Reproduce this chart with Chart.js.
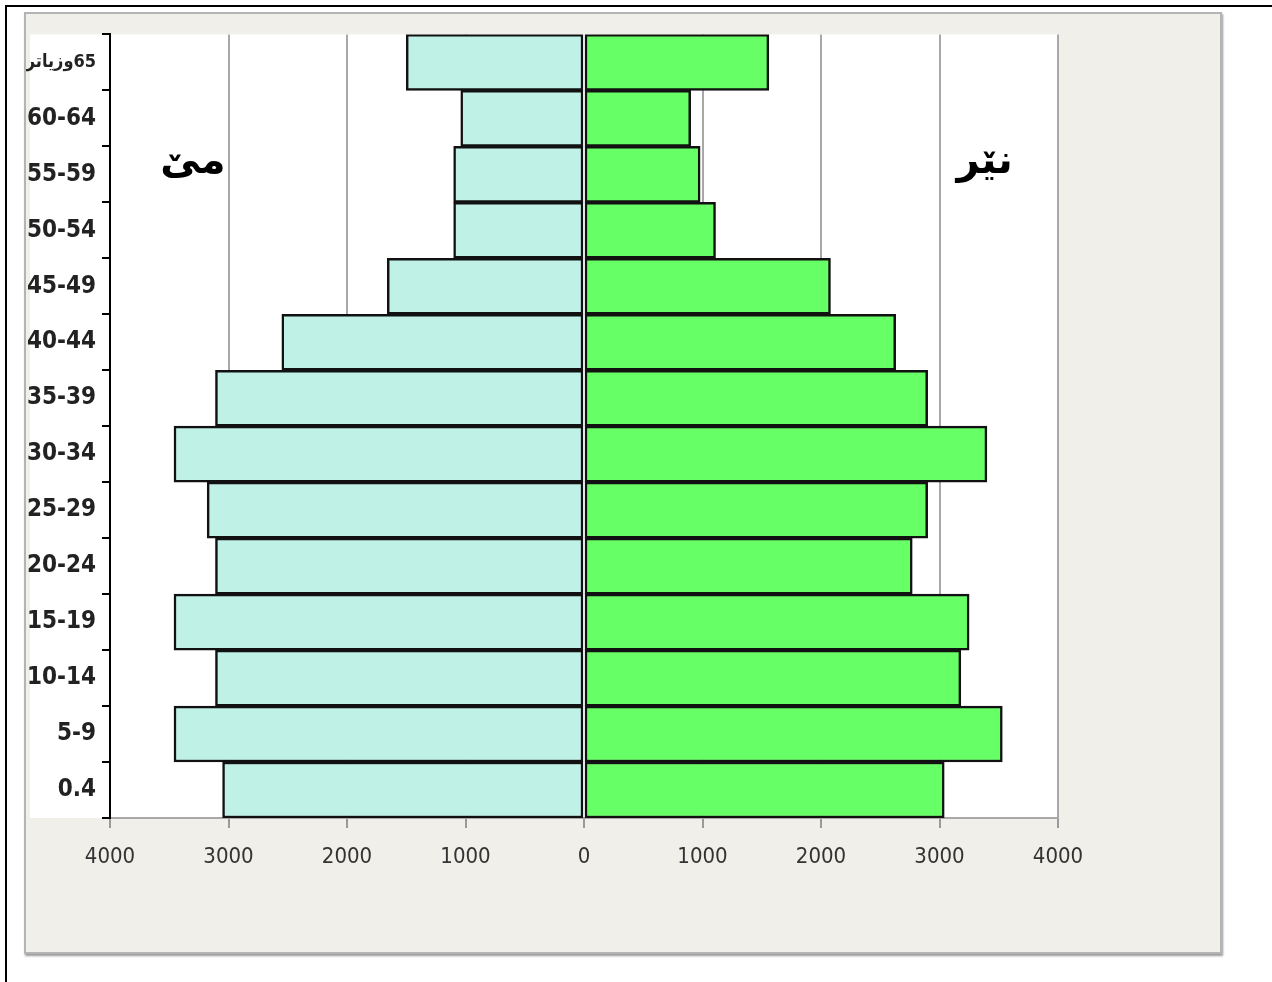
<!DOCTYPE html>
<html>
<head>
<meta charset="utf-8">
<script src="https://cdn.jsdelivr.net/npm/chart.js@4.4.0/dist/chart.umd.min.js"></script>
<style>
  body { margin: 0; background: #fff; width: 1272px; height: 982px; overflow: hidden; }
  .frame { position: absolute; left: 5px; top: 5px; width: 1275px; height: 990px;
           border-left: 2px solid #000; border-top: 2px solid #000; }
  .panel { position: absolute; left: 24px; top: 12px; width: 1194px; height: 938px;
           background: #f1efea; border: 2px solid #b4b4b4; box-shadow: 1px 2px 2px #999; }
  .panel canvas { display: block; }
</style>
</head>
<body>
<div class="frame"></div>
<div class="panel">
  <canvas id="piramide" width="1194" height="938"></canvas>
</div>
<script>
// Grupos de idade (de cima para baixo)
const gruposIdade = ['وزیاتر\u200E65', '60-64', '55-59', '50-54', '45-49', '40-44', '35-39',
  '30-34', '25-29', '20-24', '15-19', '10-14', '5-9', '0.4'];

// Mulheres (lado esquerdo) e homens (lado direito)
const mulheres = [1500, 1040, 1100, 1100, 1660, 2550, 3110, 3460, 3180, 3110, 3460, 3110, 3460, 3050];
const homens = [1560, 900, 980, 1110, 2080, 2630, 2900, 3400, 2900, 2770, 3250, 3180, 3530, 3040];

const rotuloMulheres = 'مێ';
const rotuloHomens = 'نێر';

const fonteEixo = "'DejaVu Sans Condensed', sans-serif";

// Fundo branco da área do gráfico + rótulos mێ / nێر
const fundoBranco = {
  id: 'fundoBranco',
  beforeDraw(chart) {
    const { ctx, chartArea } = chart;
    ctx.save();
    ctx.fillStyle = '#ffffff';
    ctx.fillRect(4, chartArea.top, chartArea.right - 4, chartArea.bottom - chartArea.top);
    ctx.restore();
  },
  afterDatasetsDraw(chart) {
    const { ctx, scales } = chart;
    const y = scales.y.getPixelForValue(2) - 12;
    ctx.save();
    ctx.fillStyle = '#000';
    ctx.font = "bold 40px 'DejaVu Sans', sans-serif";
    ctx.textAlign = 'center';
    ctx.textBaseline = 'middle';
    ctx.fillText(rotuloMulheres, scales.x.getPixelForValue(-3300), y);
    ctx.fillText(rotuloHomens, scales.x.getPixelForValue(3380), y);
    ctx.restore();
  }
};

new Chart(document.getElementById('piramide'), {
  type: 'bar',
  data: {
    labels: gruposIdade,
    datasets: [
      {
        label: rotuloMulheres,
        data: mulheres.map(v => -v),
        backgroundColor: '#bff1e7',
        borderColor: '#111',
        borderWidth: 2.5,
        borderSkipped: false,
        barPercentage: 1,
        categoryPercentage: 1
      },
      {
        label: rotuloHomens,
        data: homens,
        backgroundColor: '#66ff66',
        borderColor: '#111',
        borderWidth: 2.5,
        borderSkipped: false,
        barPercentage: 1,
        categoryPercentage: 1
      }
    ]
  },
  options: {
    indexAxis: 'y',
    responsive: false,
    animation: false,
    layout: { padding: { left: 0, right: 162, top: 8, bottom: 0 } },
    scales: {
      x: {
        stacked: true,
        min: -4000,
        max: 4000,
        afterFit: (s) => { s.height = 134; },
        ticks: {
          stepSize: 1000,
          padding: 16,
          color: '#333',
          font: { family: fonteEixo, size: 22 },
          callback: (v) => Math.abs(v)
        },
        grid: {
          color: (c) => c.tick && c.tick.value === 0 ? 'rgba(0,0,0,0)' : '#a8a8a8',
          lineWidth: 2,
          tickLength: 10,
          tickColor: '#9a9a9a'
        },
        border: { color: '#a8a8a8', width: 2 }
      },
      y: {
        stacked: true,
        afterFit: (s) => { s.width = 84; },
        ticks: {
          padding: 6,
          color: '#222',
          font: (c) => ({ family: fonteEixo, size: c.index === 0 ? 18 : 24, weight: 'bold' })
        },
        grid: {
          drawOnChartArea: false,
          offset: true,
          tickLength: 8,
          tickColor: '#000',
          lineWidth: 2
        },
        border: { color: '#000', width: 2 }
      }
    },
    plugins: {
      legend: { display: false },
      tooltip: { enabled: false }
    }
  },
  plugins: [fundoBranco]
});
</script>
</body>
</html>
